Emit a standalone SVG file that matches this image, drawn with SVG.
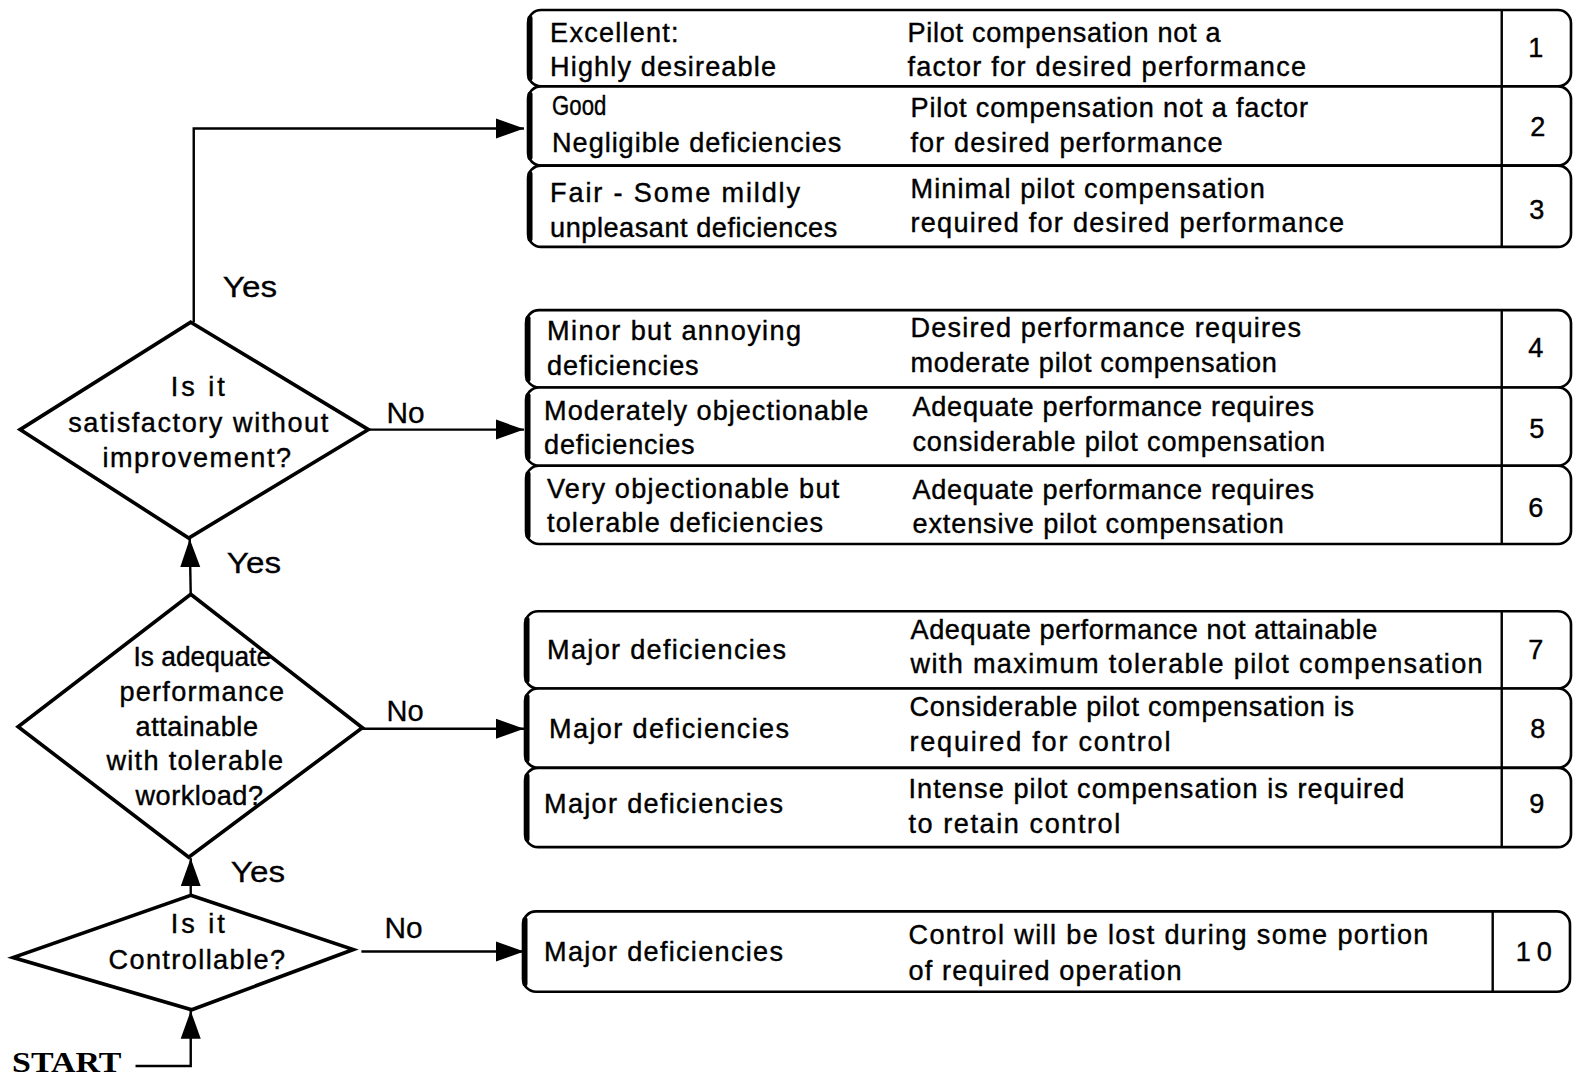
<svg xmlns="http://www.w3.org/2000/svg" width="1574" height="1076" viewBox="0 0 1574 1076">
<style>
.t{font-family:"Liberation Sans",Arial,sans-serif;font-size:27px;fill:#000;stroke:#000;stroke-width:0.4}
.lbl{font-family:"Liberation Sans",Arial,sans-serif;font-size:30px;fill:#000;stroke:#000;stroke-width:0.3}
.box{fill:#fff;stroke:#000;stroke-width:2.6}
.edge{stroke:#000;stroke-width:5;fill:none;stroke-linecap:round}
.sep{stroke:#000;stroke-width:2.4}
.dia{fill:#fff;stroke:#000;stroke-width:3.6;stroke-linejoin:miter}
.con{fill:none;stroke:#000;stroke-width:2.4}
.num{font-family:"Liberation Sans",Arial,sans-serif;font-size:27px;text-anchor:middle;stroke:#000;stroke-width:0.4}
</style>
<defs>
<marker id="ah" markerUnits="userSpaceOnUse" markerWidth="30" markerHeight="22" refX="28" refY="11" orient="auto">
<path d="M0,1 L28,11 L0,21 z" fill="#000"/>
</marker>
</defs>
<rect width="1574" height="1076" fill="#fff"/>
<g transform="scale(1.00383,1.00373)">
<g id="connectors">
<polyline class="con" points="135,1062 190,1062 190,1007" marker-end="url(#ah)"/>
<line class="con" x1="190" y1="892" x2="190" y2="855" marker-end="url(#ah)"/>
<line class="con" x1="190" y1="592" x2="189" y2="537" marker-end="url(#ah)"/>
<polyline class="con" points="193,321 193,128 522,128" marker-end="url(#ah)"/>
<line class="con" x1="367" y1="428" x2="522" y2="428" marker-end="url(#ah)"/>
<line class="con" x1="361" y1="726" x2="522" y2="726" marker-end="url(#ah)"/>
<line class="con" x1="360" y1="948" x2="522" y2="948" marker-end="url(#ah)"/>
<text class="lbl" x="222" y="296" textLength="54" lengthAdjust="spacingAndGlyphs">Yes</text>
<text class="lbl" x="385" y="421" textLength="38" lengthAdjust="spacingAndGlyphs">No</text>
<text class="lbl" x="226" y="571" textLength="54" lengthAdjust="spacingAndGlyphs">Yes</text>
<text class="lbl" x="385" y="718" textLength="37" lengthAdjust="spacingAndGlyphs">No</text>
<text class="lbl" x="230" y="879" textLength="54" lengthAdjust="spacingAndGlyphs">Yes</text>
<text class="lbl" x="383" y="935" textLength="38" lengthAdjust="spacingAndGlyphs">No</text>
</g>
<g id="start">
<text x="12" y="1068" style="font-family:'Liberation Serif',serif;font-weight:bold;font-size:29px" textLength="109" lengthAdjust="spacingAndGlyphs">START</text>
</g>
<g id="d1">
<polygon class="dia" points="190,321 367,428 188,536 20,428"/>
<text class="t" x="170" y="395" textLength="54" lengthAdjust="spacing">Is it</text>
<text class="t" x="68" y="430" textLength="259" lengthAdjust="spacing">satisfactory without</text>
<text class="t" x="102" y="465" textLength="188" lengthAdjust="spacing">improvement?</text>
</g>
<g id="d2">
<polygon class="dia" points="190,592 361,725 188,854 18,724"/>
<text class="t" x="133" y="664" textLength="137" lengthAdjust="spacingAndGlyphs">Is adequate</text>
<text class="t" x="119" y="698" textLength="164" lengthAdjust="spacing">performance</text>
<text class="t" x="135" y="733" textLength="122" lengthAdjust="spacing">attainable</text>
<text class="t" x="106" y="767" textLength="176" lengthAdjust="spacing">with tolerable</text>
<text class="t" x="135" y="802" textLength="127" lengthAdjust="spacing">workload?</text>
</g>
<g id="d3">
<polygon class="dia" points="190,892 352,946 191,1006 13,954"/>
<text class="t" x="170" y="930" textLength="54" lengthAdjust="spacing">Is it</text>
<text class="t" x="108" y="965" textLength="176" lengthAdjust="spacing">Controllable?</text>
</g>
<g id="r1">
<rect class="box" x="526" y="10" width="1039" height="76" rx="13"/>
<line class="edge" x1="528" y1="18" x2="528" y2="78"/>
<line class="sep" x1="1496" y1="10" x2="1496" y2="86"/>
<text class="t" x="548" y="42" textLength="128" lengthAdjust="spacing">Excellent:</text>
<text class="t" x="548" y="76" textLength="225" lengthAdjust="spacing">Highly desireable</text>
<text class="t" x="904" y="42" textLength="312" lengthAdjust="spacing">Pilot compensation not a</text>
<text class="t" x="904" y="76" textLength="397" lengthAdjust="spacing">factor for desired performance</text>
<text class="num" x="1530" y="57">1</text>
</g>
<g id="r2">
<rect class="box" x="526" y="86" width="1039" height="79" rx="13"/>
<line class="edge" x1="528" y1="94" x2="528" y2="157"/>
<line class="sep" x1="1496" y1="86" x2="1496" y2="165"/>
<text class="t" x="550" y="115" textLength="54" lengthAdjust="spacingAndGlyphs">Good</text>
<text class="t" x="550" y="151" textLength="288" lengthAdjust="spacing">Negligible deficiencies</text>
<text class="t" x="907" y="117" textLength="396" lengthAdjust="spacing">Pilot compensation not a factor</text>
<text class="t" x="907" y="151" textLength="311" lengthAdjust="spacing">for desired performance</text>
<text class="num" x="1532" y="136">2</text>
</g>
<g id="r3">
<rect class="box" x="526" y="165" width="1039" height="81" rx="13"/>
<line class="edge" x1="528" y1="173" x2="528" y2="238"/>
<line class="sep" x1="1496" y1="165" x2="1496" y2="246"/>
<text class="t" x="548" y="201" textLength="249" lengthAdjust="spacing">Fair - Some mildly</text>
<text class="t" x="548" y="236" textLength="286" lengthAdjust="spacing">unpleasant deficiences</text>
<text class="t" x="907" y="197" textLength="353" lengthAdjust="spacing">Minimal pilot compensation</text>
<text class="t" x="907" y="231" textLength="432" lengthAdjust="spacing">required for desired performance</text>
<text class="num" x="1531" y="218">3</text>
</g>
<g id="r4">
<rect class="box" x="524" y="309" width="1041" height="77" rx="13"/>
<line class="edge" x1="526" y1="317" x2="526" y2="378"/>
<line class="sep" x1="1496" y1="309" x2="1496" y2="386"/>
<text class="t" x="545" y="339" textLength="253" lengthAdjust="spacing">Minor but annoying</text>
<text class="t" x="545" y="374" textLength="151" lengthAdjust="spacing">deficiencies</text>
<text class="t" x="907" y="336" textLength="389" lengthAdjust="spacing">Desired performance requires</text>
<text class="t" x="907" y="371" textLength="365" lengthAdjust="spacing">moderate pilot compensation</text>
<text class="num" x="1530" y="356">4</text>
</g>
<g id="r5">
<rect class="box" x="524" y="386" width="1041" height="78" rx="13"/>
<line class="edge" x1="526" y1="394" x2="526" y2="456"/>
<line class="sep" x1="1496" y1="386" x2="1496" y2="464"/>
<text class="t" x="542" y="418" textLength="323" lengthAdjust="spacing">Moderately objectionable</text>
<text class="t" x="542" y="452" textLength="150" lengthAdjust="spacing">deficiencies</text>
<text class="t" x="909" y="414" textLength="400" lengthAdjust="spacing">Adequate performance requires</text>
<text class="t" x="909" y="449" textLength="411" lengthAdjust="spacing">considerable pilot compensation</text>
<text class="num" x="1531" y="436">5</text>
</g>
<g id="r6">
<rect class="box" x="524" y="464" width="1041" height="78" rx="13"/>
<line class="edge" x1="526" y1="472" x2="526" y2="534"/>
<line class="sep" x1="1496" y1="464" x2="1496" y2="542"/>
<text class="t" x="545" y="496" textLength="291" lengthAdjust="spacing">Very objectionable but</text>
<text class="t" x="545" y="530" textLength="275" lengthAdjust="spacing">tolerable deficiencies</text>
<text class="t" x="909" y="497" textLength="400" lengthAdjust="spacing">Adequate performance requires</text>
<text class="t" x="909" y="531" textLength="370" lengthAdjust="spacing">extensive pilot compensation</text>
<text class="num" x="1530" y="515">6</text>
</g>
<g id="r7">
<rect class="box" x="523" y="609" width="1042" height="77" rx="13"/>
<line class="edge" x1="525" y1="617" x2="525" y2="678"/>
<line class="sep" x1="1496" y1="609" x2="1496" y2="686"/>
<text class="t" x="545" y="657" textLength="238" lengthAdjust="spacing">Major deficiencies</text>
<text class="t" x="907" y="637" textLength="465" lengthAdjust="spacing">Adequate performance not attainable</text>
<text class="t" x="907" y="671" textLength="570" lengthAdjust="spacing">with maximum tolerable pilot compensation</text>
<text class="num" x="1530" y="657">7</text>
</g>
<g id="r8">
<rect class="box" x="523" y="686" width="1042" height="79" rx="13"/>
<line class="edge" x1="525" y1="694" x2="525" y2="757"/>
<line class="sep" x1="1496" y1="686" x2="1496" y2="765"/>
<text class="t" x="547" y="735" textLength="239" lengthAdjust="spacing">Major deficiencies</text>
<text class="t" x="906" y="713" textLength="443" lengthAdjust="spacing">Considerable pilot compensation is</text>
<text class="t" x="906" y="748" textLength="260" lengthAdjust="spacing">required for control</text>
<text class="num" x="1532" y="735">8</text>
</g>
<g id="r9">
<rect class="box" x="523" y="765" width="1042" height="79" rx="13"/>
<line class="edge" x1="525" y1="773" x2="525" y2="836"/>
<line class="sep" x1="1496" y1="765" x2="1496" y2="844"/>
<text class="t" x="542" y="810" textLength="238" lengthAdjust="spacing">Major deficiencies</text>
<text class="t" x="905" y="795" textLength="494" lengthAdjust="spacing">Intense pilot compensation is required</text>
<text class="t" x="905" y="830" textLength="211" lengthAdjust="spacing">to retain control</text>
<text class="num" x="1531" y="810">9</text>
</g>
<g id="r10">
<rect class="box" x="521" y="908" width="1043" height="80" rx="13"/>
<line class="edge" x1="523" y1="916" x2="523" y2="980"/>
<line class="sep" x1="1487" y1="908" x2="1487" y2="988"/>
<text class="t" x="542" y="957" textLength="238" lengthAdjust="spacing">Major deficiencies</text>
<text class="t" x="905" y="941" textLength="518" lengthAdjust="spacing">Control will be lost during some portion</text>
<text class="t" x="905" y="976" textLength="272" lengthAdjust="spacing">of required operation</text>
<text class="num" x="1528" y="957" textLength="36" lengthAdjust="spacing">1 0</text>
</g>
</g>
</svg>
